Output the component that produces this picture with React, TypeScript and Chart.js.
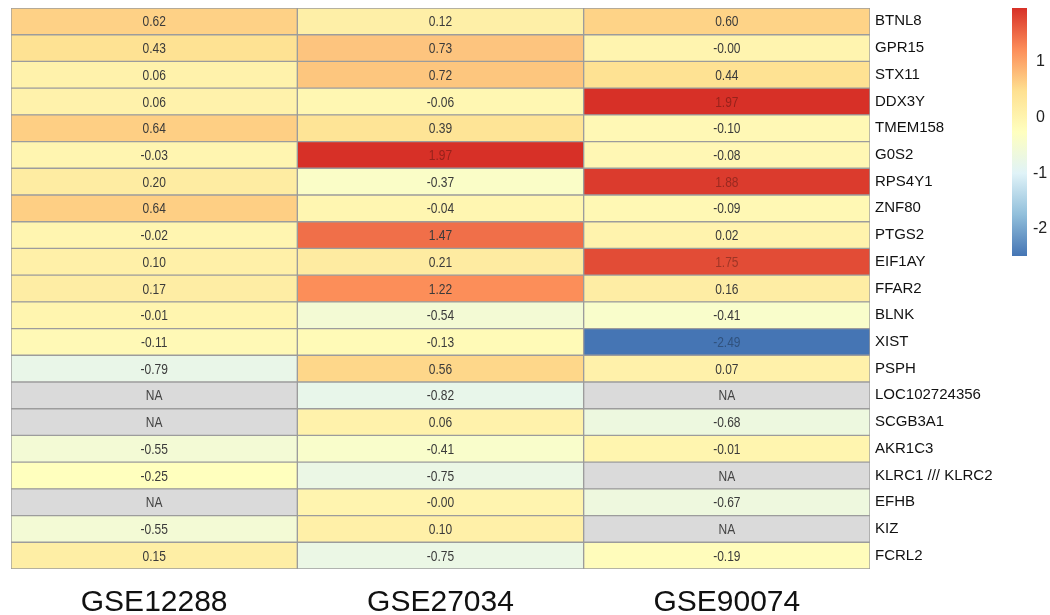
import React, { useEffect, useRef } from "react";
import { Chart, registerables } from "chart.js";

Chart.register(...registerables);

const genes = [
  "BTNL8", "GPR15", "STX11", "DDX3Y", "TMEM158", "G0S2", "RPS4Y1", "ZNF80",
  "PTGS2", "EIF1AY", "FFAR2", "BLNK", "XIST", "PSPH", "LOC102724356",
  "SCGB3A1", "AKR1C3", "KLRC1 /// KLRC2", "EFHB", "KIZ", "FCRL2",
];
const columns = ["GSE12288", "GSE27034", "GSE90074"];
const gse12288 = [0.62, 0.43, 0.06, 0.06, 0.64, -0.03, 0.2, 0.64, -0.02, 0.1, 0.17, -0.01, -0.11, -0.79, null, null, -0.55, -0.25, null, -0.55, 0.15];
const gse27034 = [0.12, 0.73, 0.72, -0.06, 0.39, 1.97, -0.37, -0.04, 1.47, 0.21, 1.22, -0.54, -0.13, 0.56, -0.82, 0.06, -0.41, -0.75, -0.0, 0.1, -0.75];
const gse90074 = [0.6, -0.0, 0.44, 1.97, -0.1, -0.08, 1.88, -0.09, 0.02, 1.75, 0.16, -0.41, -2.49, 0.07, null, -0.68, -0.01, null, -0.67, null, -0.19];
const legendTicks = [1, 0, -1, -2];
const palette = ["#4575B4", "#91BFDB", "#E0F3F8", "#FFFFBF", "#FEE090", "#FC8D59", "#D73027"];
const naColor = "#DADADA";

const series = [gse12288, gse27034, gse90074];
const allVals = series.flat().filter((v) => v !== null) as number[];
const vMin = Math.min(...allVals);
const vMax = Math.max(...allVals);

function hexToRgb(h: string) {
  return [parseInt(h.slice(1, 3), 16), parseInt(h.slice(3, 5), 16), parseInt(h.slice(5, 7), 16)];
}
function colorFor(v: number | null, darken = 0) {
  if (v === null) return naColor;
  let t = (v - vMin) / (vMax - vMin);
  t = Math.max(0, Math.min(1, t));
  const pos = t * (palette.length - 1);
  const i = Math.min(palette.length - 2, Math.floor(pos));
  const f = pos - i;
  const a = hexToRgb(palette[i]);
  const b = hexToRgb(palette[i + 1]);
  const c = a.map((x, k) => Math.round((x + (b[k] - x) * f) * (1 - darken)));
  return `rgb(${c[0]},${c[1]},${c[2]})`;
}
function fmt(v: number | null) {
  if (v === null) return "NA";
  if (Object.is(v, -0)) return "-0.00";
  return v.toFixed(2);
}
function textColor(v: number | null) {
  if (v === null) return "#444";
  const t = (v - vMin) / (vMax - vMin);
  if (t > 0.9 || t < 0.12) return colorFor(v, 0.3);
  return "#3a3a3a";
}

const CELL_FONT = '15px "Liberation Sans", Arial, sans-serif';

const cellTextPlugin = {
  id: "cellText",
  afterDatasetsDraw(chart: any) {
    const ctx = chart.ctx;
    chart.data.datasets.forEach((ds: any, di: number) => {
      const meta = chart.getDatasetMeta(di);
      meta.data.forEach((el: any, j: number) => {
        const v = series[di][j];
        ctx.save();
        ctx.font = CELL_FONT;
        ctx.textAlign = "center";
        ctx.textBaseline = "middle";
        ctx.fillStyle = textColor(v);
        ctx.translate((el.x + el.base) / 2, el.y + 1);
        ctx.scale(0.8, 1);
        ctx.fillText(fmt(v), 0, 0);
        ctx.restore();
      });
    });
  },
};

const colorBarPlugin = {
  id: "colorBar",
  afterDraw(chart: any) {
    const ctx = chart.ctx;
    const x0 = 1012, w = 15, top = 8, bottom = 256;
    const toY = (v: number) => top + ((vMax - v) / (vMax - vMin)) * (bottom - top);
    ctx.save();
    const g = ctx.createLinearGradient(0, bottom, 0, top);
    palette.forEach((c, i) => g.addColorStop(i / (palette.length - 1), c));
    ctx.fillStyle = g;
    ctx.fillRect(x0, top, w, bottom - top);
    ctx.font = '16px "Liberation Sans", Arial, sans-serif';
    ctx.fillStyle = "#222";
    ctx.textAlign = "left";
    ctx.textBaseline = "middle";
    legendTicks.forEach((t) => {
      ctx.fillText(String(t), t < 0 ? 1033 : 1036, toY(t));
    });
    ctx.restore();
  },
};

export default function App() {
  const ref = useRef<HTMLCanvasElement | null>(null);
  useEffect(() => {
    if (!ref.current) return;
    const chart = new Chart(ref.current, {
      type: "bar",
      data: {
        labels: genes,
        datasets: series.map((s, di) => ({
          label: columns[di],
          data: s.map(() => [di, di + 1]) as any,
          backgroundColor: s.map((v) => colorFor(v)),
          borderColor: "#9C9C9C",
          borderWidth: 1,
          borderSkipped: false,
          barPercentage: 1,
          categoryPercentage: 1,
          grouped: false,
        })),
      },
      options: {
        indexAxis: "y",
        animation: false,
        responsive: true,
        maintainAspectRatio: false,
        layout: { padding: { left: 11, top: 8, right: 0, bottom: 0 } },
        plugins: { legend: { display: false }, tooltip: { enabled: false } },
        scales: {
          x: {
            type: "linear",
            min: 0,
            max: 3,
            grid: { display: false },
            border: { display: false },
            afterBuildTicks: (scale: any) => {
              scale.ticks = columns.map((_, i) => ({ value: i + 0.5 }));
            },
            afterFit: (scale: any) => {
              scale.height = 46;
              scale.paddingLeft = 0;
              scale.paddingRight = 0;
            },
            ticks: {
              autoSkip: false,
              maxRotation: 0,
              padding: 8,
              color: "#111",
              font: { family: '"Liberation Sans", Arial, sans-serif', size: 30 },
              callback: (v: any) => columns[Math.round(Number(v) - 0.5)] ?? "",
            },
          },
          y: {
            type: "category",
            position: "right",
            offset: true,
            grid: { display: false, drawTicks: false },
            border: { display: false },
            afterFit: (scale: any) => {
              scale.width = 180;
              scale.paddingTop = 0;
              scale.paddingBottom = 0;
            },
            ticks: {
              autoSkip: false,
              padding: 5,
              color: "#111",
              font: { family: '"Liberation Sans", Arial, sans-serif', size: 15 },
            },
          },
        },
      },
      plugins: [cellTextPlugin, colorBarPlugin],
    });
    return () => chart.destroy();
  }, []);
  return (
    <div style={{ position: "absolute", left: 0, top: 0, width: 1050, height: 615, background: "#fff" }}>
      <canvas ref={ref} />
    </div>
  );
}
